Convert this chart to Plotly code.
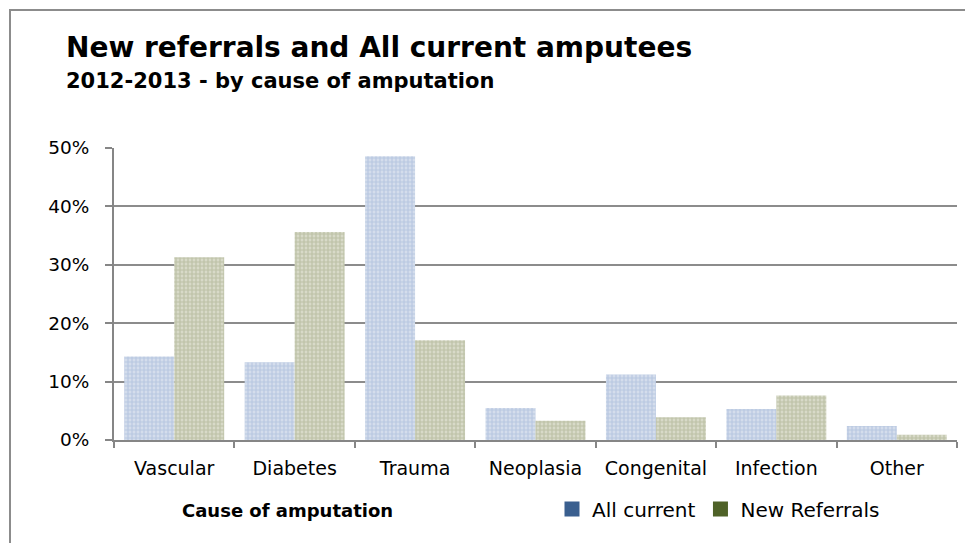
import plotly.graph_objects as go

categories = ["Vascular", "Diabetes", "Trauma", "Neoplasia", "Congenital", "Infection", "Other"]
all_current = [14.3, 13.3, 48.6, 5.5, 11.2, 5.3, 2.4]
new_referrals = [31.3, 35.6, 17.1, 3.3, 3.9, 7.6, 0.9]
y_ticks = [0, 10, 20, 30, 40, 50]
y_tick_labels = ["0%", "10%", "20%", "30%", "40%", "50%"]

FONT = "DejaVu Sans"
# page has an 8px body margin, so the figure is drawn 8px in from top-left
W, H = 965, 535
L, R, T, B = 106, 16, 140, 103
PW, PH = W - L - R, H - T - B
OFF = 8

def px(x):  # page pixel -> paper x
    return (x - OFF - L) / PW

def py(y):  # page pixel -> paper y
    return (H - B - (y - OFF)) / PH

fig = go.Figure()
fig.add_trace(go.Bar(
    x=categories, y=all_current, name="All current", showlegend=False,
    marker=dict(color="#d4ddec", line=dict(width=0),
                pattern=dict(shape="+", fgcolor="#9bb1d4", size=4, solidity=0.5)),
))
fig.add_trace(go.Bar(
    x=categories, y=new_referrals, name="New Referrals", showlegend=False,
    marker=dict(color="#d8dac8", line=dict(width=0),
                pattern=dict(shape="+", fgcolor="#a0a783", size=4, solidity=0.5)),
))
# legend entries with solid colours (not part of the bar groups)
fig.add_trace(go.Scatter(x=[None], y=[None], mode="markers", name="All current",
                         marker=dict(symbol="square", size=15, color="#3a5f8f")))
fig.add_trace(go.Scatter(x=[None], y=[None], mode="markers", name="New Referrals",
                         marker=dict(symbol="square", size=15, color="#4f6228")))

fig.update_layout(
    width=W, height=H,
    margin=dict(l=L, r=R, t=T, b=B),
    paper_bgcolor="white", plot_bgcolor="white",
    barmode="group", bargap=0.17, bargroupgap=0,
    font=dict(family=FONT, size=19, color="black"),
    showlegend=True,
    legend=dict(orientation="h", x=px(552), xanchor="left", y=py(509), yanchor="middle",
                font=dict(family=FONT, size=20, color="black"), itemwidth=30,
                traceorder="normal", bgcolor="rgba(0,0,0,0)", borderwidth=0),
    xaxis=dict(showgrid=False, showline=True, linecolor="#868686", linewidth=2,
               ticks="outside", ticklen=6, tickcolor="#868686", tickwidth=2,
               tickson="boundaries", tickfont=dict(family=FONT, size=19, color="black"),
               ticklabelstandoff=10, range=[-0.5, 6.5], fixedrange=True),
    yaxis=dict(range=[0, 50], tickvals=y_ticks, ticktext=y_tick_labels,
               showgrid=True, gridcolor="#8c8c8c", gridwidth=1.5,
               showline=True, linecolor="#868686", linewidth=2,
               ticks="outside", ticklen=7, tickcolor="#868686", tickwidth=1.5,
               ticklabelstandoff=12,
               tickfont=dict(family=FONT, size=18.5, color="black"), zeroline=False),
    annotations=[
        dict(text="<b>New referrals and All current amputees</b>", xref="paper", yref="paper",
             x=px(64), y=py(47), xanchor="left", yanchor="middle", showarrow=False,
             font=dict(family=FONT, size=28, color="black")),
        dict(text="<b>2012-2013 - by cause of amputation</b>", xref="paper", yref="paper",
             x=px(64), y=py(81), xanchor="left", yanchor="middle", showarrow=False,
             font=dict(family=FONT, size=21, color="black")),
        dict(text="<b>Cause of amputation</b>", xref="paper", yref="paper",
             x=px(287), y=py(510), xanchor="center", yanchor="middle", showarrow=False,
             font=dict(family=FONT, size=18, color="black")),
    ],
    shapes=[
        dict(type="rect", xref="paper", yref="paper",
             x0=px(10), x1=px(990), y0=py(560), y1=py(10),
             line=dict(color="#8c8c8c", width=2), fillcolor="rgba(0,0,0,0)", layer="below"),
    ],
)

fig.write_html("out.html")
